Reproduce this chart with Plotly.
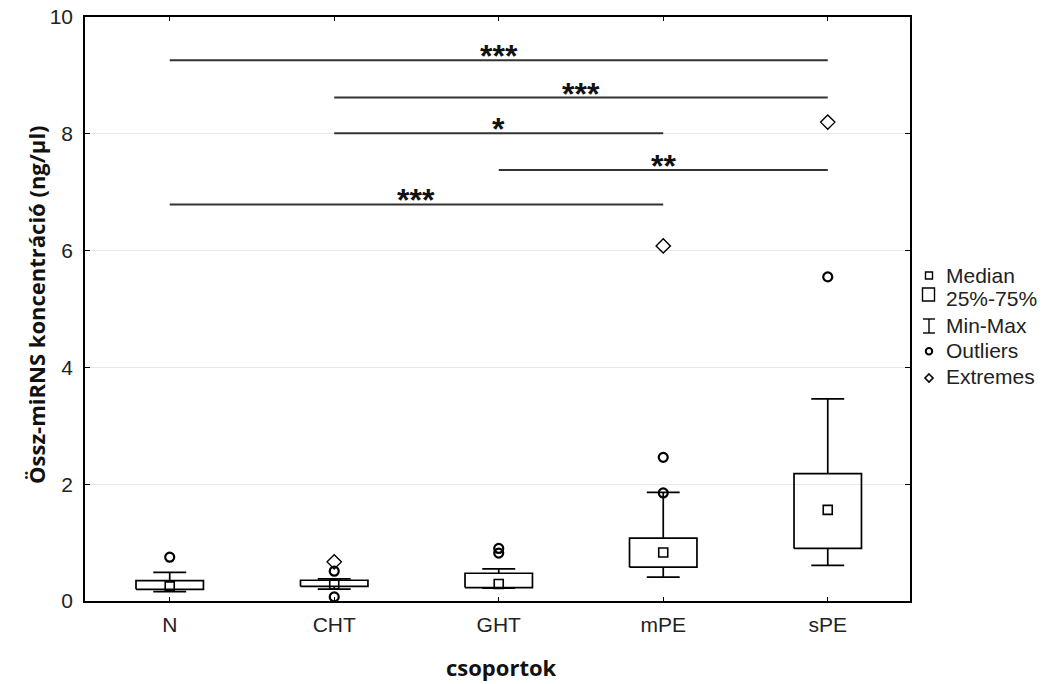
import plotly.graph_objects as go

# ---------------- data ----------------
groups = ["N", "CHT", "GHT", "mPE", "sPE"]
q1 = [0.20, 0.25, 0.23, 0.58, 0.90]
median = [0.25, 0.28, 0.29, 0.83, 1.56]
q3 = [0.35, 0.355, 0.475, 1.075, 2.18]
wmin = [0.16, 0.205, 0.22, 0.41, 0.61]
wmax = [0.49, 0.38, 0.55, 1.86, 3.46]

outlier_group = [0, 1, 1, 2, 2, 3, 3, 4]
outlier_value = [0.75, 0.51, 0.07, 0.90, 0.82, 2.46, 1.85, 5.55]
extreme_group = [1, 3, 4]
extreme_value = [0.67, 6.08, 8.20]

sig_from = [0, 1, 1, 2, 0]
sig_to = [4, 4, 3, 4, 3]
sig_y = [9.26, 8.62, 8.01, 7.38, 6.79]
sig_label = ["***", "***", "*", "**", "***"]

y_ticks = [0, 2, 4, 6, 8, 10]

# ---------------- style ----------------
BOX_HALF = 0.205
CAP_HALF = 0.10
LW = 1.7
TICK_FONT = dict(family="Liberation Sans, Arial, sans-serif", size=21, color="#222")
TITLE_FONT = dict(family="Open Sans, sans-serif", size=22, color="#111")

fig = go.Figure()

line_style = dict(color="black", width=LW)

# boxes, whiskers, caps
for i, g in enumerate(groups):
    fig.add_trace(go.Scatter(
        x=[i - BOX_HALF, i + BOX_HALF, i + BOX_HALF, i - BOX_HALF, i - BOX_HALF],
        y=[q1[i], q1[i], q3[i], q3[i], q1[i]],
        mode="lines", line=line_style, showlegend=False, hoverinfo="skip"))
    fig.add_trace(go.Scatter(
        x=[i, i, None, i, i, None,
           i - CAP_HALF, i + CAP_HALF, None, i - CAP_HALF, i + CAP_HALF],
        y=[q3[i], wmax[i], None, q1[i], wmin[i], None,
           wmax[i], wmax[i], None, wmin[i], wmin[i]],
        mode="lines", line=line_style, showlegend=False, hoverinfo="skip"))

# medians
fig.add_trace(go.Scatter(
    x=list(range(len(groups))), y=median, mode="markers",
    marker=dict(symbol="square-open", size=9, color="black", line=dict(width=1.6)),
    showlegend=False))

# outliers
fig.add_trace(go.Scatter(
    x=outlier_group, y=outlier_value, mode="markers",
    marker=dict(symbol="circle-open", size=9, color="black", line=dict(width=2.2)),
    showlegend=False))

# extremes
fig.add_trace(go.Scatter(
    x=extreme_group, y=extreme_value, mode="markers",
    marker=dict(symbol="diamond-open", size=11, color="black", line=dict(width=1.4)),
    showlegend=False))

# significance bars
for a, b, yv, lab in zip(sig_from, sig_to, sig_y, sig_label):
    fig.add_trace(go.Scatter(
        x=[a, b], y=[yv, yv], mode="lines",
        line=dict(color="#333", width=2), showlegend=False, hoverinfo="skip"))
    fig.add_annotation(
        x=(a + b) / 2, y=yv, text="<b>" + lab + "</b>", showarrow=False,
        xanchor="center", yanchor="bottom", yshift=-16,
        font=dict(family="Liberation Sans, Arial, sans-serif", size=32, color="#111"))

# ---------------- layout ----------------
L, R, T, B = 85, 910, 17, 601
W, H = 1043, 684


def px(x):
    return (x - L) / (R - L)


def py(y):
    return (B - y) / (B - T)


fig.update_layout(
    width=W, height=H,
    margin=dict(l=L, r=W - R, t=T, b=H - B, pad=0, autoexpand=False),
    paper_bgcolor="white", plot_bgcolor="white",
    showlegend=False,
    xaxis=dict(
        range=[-0.515, 4.5], tickmode="array",
        tickvals=list(range(len(groups))), ticktext=groups,
        showgrid=False, zeroline=False,
        showline=True, linecolor="black", linewidth=1.5, mirror="ticks",
        ticks="inside", ticklen=4, tickwidth=1.3, tickcolor="black",
        tickfont=TICK_FONT, ticklabelstandoff=4),
    yaxis=dict(
        range=[0, 10], tickmode="array", tickvals=y_ticks,
        showgrid=True, gridcolor="#e8e8e8", gridwidth=1, zeroline=False,
        showline=True, linecolor="black", linewidth=1.5, mirror="ticks",
        ticks="inside", ticklen=5, tickwidth=1.3, tickcolor="black",
        tickfont=TICK_FONT, ticklabelstandoff=6),
)

# axis titles
fig.add_annotation(
    xref="paper", yref="paper", x=px(501), y=py(667), text="<b>csoportok</b>",
    showarrow=False, xanchor="center", yanchor="middle", font=TITLE_FONT)
fig.add_annotation(
    xref="paper", yref="paper", x=px(36), y=py(305),
    text="<b>Össz-miRNS koncentráció (ng/µl)</b>", textangle=-90,
    showarrow=False, xanchor="center", yanchor="middle", font=TITLE_FONT)

# manual legend
LEG_FONT = dict(family="Liberation Sans, Arial, sans-serif", size=21, color="#222")
sym_x = 929
text_x = 944
legend_rows = [("Median", 275), ("25%-75%", 298), ("Min-Max", 325),
               ("Outliers", 350), ("Extremes", 376)]
for lab, yc in legend_rows:
    fig.add_annotation(
        xref="paper", yref="paper", x=px(text_x), y=py(yc), text=lab,
        showarrow=False, xanchor="left", yanchor="middle", font=LEG_FONT)

shape_line = dict(color="black", width=1.4)
# median square
fig.add_shape(type="rect", xref="paper", yref="paper",
              x0=px(sym_x - 3.5), x1=px(sym_x + 3.5), y0=py(279), y1=py(272),
              line=shape_line)
# 25-75 box
fig.add_shape(type="rect", xref="paper", yref="paper",
              x0=px(sym_x - 6.5), x1=px(sym_x + 5.5), y0=py(301), y1=py(288),
              line=shape_line)
# min-max I-beam
for y0, y1, x0, x1 in [(319, 319, sym_x - 6, sym_x + 6),
                       (333, 333, sym_x - 6, sym_x + 6),
                       (319, 333, sym_x, sym_x)]:
    fig.add_shape(type="line", xref="paper", yref="paper",
                  x0=px(x0), x1=px(x1), y0=py(y0), y1=py(y1), line=shape_line)
# outlier circle
fig.add_shape(type="circle", xref="paper", yref="paper",
              x0=px(sym_x - 3.2), x1=px(sym_x + 3.2), y0=py(354.5), y1=py(348),
              line=dict(color="black", width=2))
# extreme diamond
cx, cy, d = sym_x, 378, 4
fig.add_shape(type="path", xref="paper", yref="paper",
              path=f"M {px(cx)} {py(cy - d)} L {px(cx + d)} {py(cy)} "
                   f"L {px(cx)} {py(cy + d)} L {px(cx - d)} {py(cy)} Z",
              line=dict(color="black", width=1.6))

fig.write_html("out.html",
               config={"displayModeBar": False},
               post_script="document.body.style.margin='0';"
                           "document.body.style.padding='0';")
